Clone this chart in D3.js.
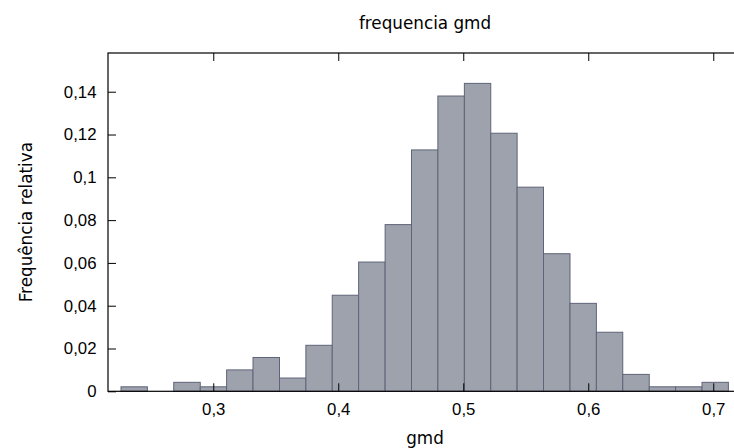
<!DOCTYPE html>
<html>
<head>
<meta charset="utf-8">
<script src="https://cdn.jsdelivr.net/npm/d3@7"></script>
<style>
  body { margin: 0; background: #fff; }
  svg { display: block; font-family: "DejaVu Sans", sans-serif; }
</style>
</head>
<body>
<div id="chart"></div>
<script>
// bin edges (gmd) and relative frequency of each bin
var binEdges = [0.2262, 0.2473, 0.2684, 0.2896, 0.3107, 0.3318, 0.3530, 0.3741,
                0.3952, 0.4163, 0.4375, 0.4586, 0.4797, 0.5009, 0.5220, 0.5431,
                0.5642, 0.5854, 0.6065, 0.6276, 0.6488, 0.6699, 0.6910, 0.7121];
var freq = [0.0021, 0, 0.0042, 0.0021, 0.0100, 0.0158, 0.0062, 0.0215,
            0.0449, 0.0604, 0.0779, 0.1128, 0.1380, 0.1439, 0.1206, 0.0954,
            0.0643, 0.0411, 0.0276, 0.0079, 0.0021, 0.0021, 0.0042];
var xTicks = [0.3, 0.4, 0.5, 0.6, 0.7];
var yTicks = [0, 0.02, 0.04, 0.06, 0.08, 0.1, 0.12, 0.14];

var W = 734, H = 448;
// plot box (right border sits just past the window edge)
var plotLeft = 108, plotRight = 742, plotTop = 53, plotBottom = 391.3;

var locale = d3.formatLocale({decimal: ",", thousands: ".", grouping: [3], currency: ["", ""]});
var fmt = locale.format("~r");

var svg = d3.select("#chart")
  .append("svg")
    .attr("width", W)
    .attr("height", H);

var x = d3.scaleLinear()
  .domain([0.2158, 0.7230])
  .range([plotLeft, plotRight]);

var y = d3.scaleLinear()
  .domain([0, 0.1581])
  .range([plotBottom, plotTop]);

var bins = freq.map(function(f, i) {
  return {x0: binEdges[i], x1: binEdges[i + 1], f: f};
});

// bars
svg.append("g")
  .selectAll("rect")
  .data(bins.filter(function(d) { return d.f > 0; }))
  .enter()
  .append("rect")
    .attr("x", function(d) { return x(d.x0); })
    .attr("y", function(d) { return y(d.f); })
    .attr("width", function(d) { return x(d.x1) - x(d.x0); })
    .attr("height", function(d) { return y(0) - y(d.f); })
    .attr("fill", "#9ea2ad")
    .attr("stroke", "#5f6478")
    .attr("stroke-width", 1);

// axes with inward ticks (gnuplot style, mirrored)
function styleAxis(g) {
  g.select(".domain").remove();
  g.selectAll(".tick line").attr("stroke", "#000");
  g.selectAll("text").attr("fill", "#000").style("font-size", "16.8px");
}

svg.append("g")
  .attr("transform", "translate(0," + plotBottom + ")")
  .call(d3.axisBottom(x).tickValues(xTicks).tickFormat(fmt).tickSizeInner(-8).tickPadding(12))
  .call(styleAxis);

svg.append("g")
  .attr("transform", "translate(0," + plotTop + ")")
  .call(d3.axisTop(x).tickValues(xTicks).tickFormat("").tickSizeInner(-8))
  .call(styleAxis);

svg.append("g")
  .attr("transform", "translate(" + plotLeft + ",0)")
  .call(d3.axisLeft(y).tickValues(yTicks).tickFormat(fmt).tickSizeInner(-8).tickPadding(11.5))
  .call(styleAxis);

svg.append("g")
  .attr("transform", "translate(" + plotRight + ",0)")
  .call(d3.axisRight(y).tickValues(yTicks).tickFormat("").tickSizeInner(-8))
  .call(styleAxis);

// border
svg.append("rect")
  .attr("x", plotLeft)
  .attr("y", plotTop)
  .attr("width", plotRight - plotLeft)
  .attr("height", plotBottom - plotTop)
  .attr("fill", "none")
  .attr("stroke", "#000")
  .attr("stroke-width", 1.2);

// titles
svg.append("text")
  .attr("x", (plotLeft + plotRight) / 2)
  .attr("y", 29)
  .attr("text-anchor", "middle")
  .style("font-size", "16.8px")
  .text("frequencia gmd");

svg.append("text")
  .attr("x", (plotLeft + plotRight) / 2)
  .attr("y", 444)
  .attr("text-anchor", "middle")
  .style("font-size", "16.8px")
  .text("gmd");

svg.append("text")
  .attr("transform", "translate(32," + (plotTop + plotBottom) / 2 + ") rotate(-90)")
  .attr("text-anchor", "middle")
  .style("font-size", "16.8px")
  .text("Frequência relativa");
</script>
</body>
</html>
